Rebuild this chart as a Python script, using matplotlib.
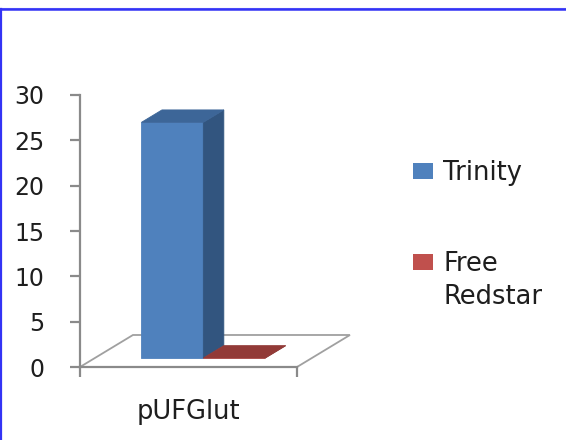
import matplotlib
matplotlib.use("Agg")
import matplotlib.pyplot as plt
from matplotlib.patches import Polygon, Rectangle
from matplotlib.lines import Line2D

# Chart data
categories = ["pUFGlut"]
series_names = ["Trinity", "Free\nRedstar"]
series_values = [26, 0]
y_ticks = [0, 5, 10, 15, 20, 25, 30]

# Face colours per series: front, side, top, legend swatch
front_colors = ["#4F81BD", "#C0504D"]
side_colors = ["#32557F", "#7E3331"]
top_colors = ["#3D6698", "#923A37"]
legend_colors = ["#4F81BD", "#C0504D"]

W, H = 566, 440
fig = plt.figure(figsize=(W / 100, H / 100), dpi=100)
fig.patch.set_facecolor("white")

ax = fig.add_axes([80 / W, 1 - 367 / H, 217 / W, 272 / H])
ax.set_xlim(0, len(categories))
ax.set_ylim(y_ticks[0], y_ticks[-1])
ax.patch.set_alpha(0)

# Oblique projection of the 3D floor depth
DX, DY = 0.244, 3.53


def proj(x, y, d):
    return (x + d * DX, y + d * DY)


axis_gray = "#8A8A8A"
edge_gray = "#A0A0A0"

# Floor
floor = Polygon([proj(0, 0, 0), proj(len(categories), 0, 0),
                 proj(len(categories), 0, 1), proj(0, 0, 1)],
                closed=True, facecolor="white", edgecolor=edge_gray,
                lw=1.3, clip_on=False, zorder=1)
ax.add_patch(floor)

# Bars
BW = 0.285
f0, f1 = 0.28, 0.667
n = len(series_names)
for ci, _ in enumerate(categories):
    c = ci + 0.5
    for i, v in enumerate(series_values):
        x0 = c - n * BW / 2 + i * BW
        x1 = x0 + BW
        front = [proj(x0, 0, f0), proj(x1, 0, f0), proj(x1, v, f0), proj(x0, v, f0)]
        side = [proj(x1, 0, f0), proj(x1, 0, f1), proj(x1, v, f1), proj(x1, v, f0)]
        top = [proj(x0, v, f0), proj(x1, v, f0), proj(x1, v, f1), proj(x0, v, f1)]
        for pts, col in ((front, front_colors[i]), (side, side_colors[i]),
                         (top, top_colors[i])):
            ax.add_patch(Polygon(pts, closed=True, facecolor=col, edgecolor=col,
                                 lw=0.6, clip_on=False, zorder=2 + i))

# Axes styling
for s in ("top", "right"):
    ax.spines[s].set_visible(False)
for s in ("left", "bottom"):
    ax.spines[s].set_color(axis_gray)
    ax.spines[s].set_linewidth(1.6)
    ax.spines[s].set_zorder(5)

text_color = "#1E1E1E"
ax.set_yticks(y_ticks)
ax.set_yticklabels([str(t) for t in y_ticks])
ax.tick_params(axis="y", direction="out", length=7.2, width=1.6,
               color=axis_gray, labelsize=17, pad=18.5, labelcolor=text_color)

ax.set_xticks([i + 0.5 for i in range(len(categories))])
ax.set_xticklabels(categories)
ax.set_xticks(list(range(len(categories) + 1)), minor=True)
ax.tick_params(axis="x", which="major", length=0, labelsize=18.5, pad=23,
               labelcolor=text_color)
ax.tick_params(axis="x", which="minor", direction="out", length=7.2,
               width=1.6, color=axis_gray)

# Legend
legend_rows = [171, 262]
for name, col, yc in zip(series_names, legend_colors, legend_rows):
    fig.patches.append(Rectangle((413 / W, 1 - (yc + 8) / H), 20 / W, 16 / H,
                                 transform=fig.transFigure, facecolor=col,
                                 edgecolor="none"))
    fig.text(443 / W, 1 - (yc - 11) / H, name, fontsize=18.5, color=text_color,
             ha="left", va="top", linespacing=1.35)

# Frame around the chart area
fig.add_artist(Line2D([0, 1], [1 - 7.6 / H, 1 - 7.6 / H], transform=fig.transFigure,
                      color="#8C8CFF", lw=0.8))
fig.add_artist(Line2D([0, 1], [1 - 9.3 / H, 1 - 9.3 / H], transform=fig.transFigure,
                      color="#3333F5", lw=1.8))
fig.add_artist(Line2D([0.8 / W, 0.8 / W], [0, 1 - 9.3 / H], transform=fig.transFigure,
                      color="#3333F5", lw=1.6))

fig.savefig("out.png", dpi=100)
